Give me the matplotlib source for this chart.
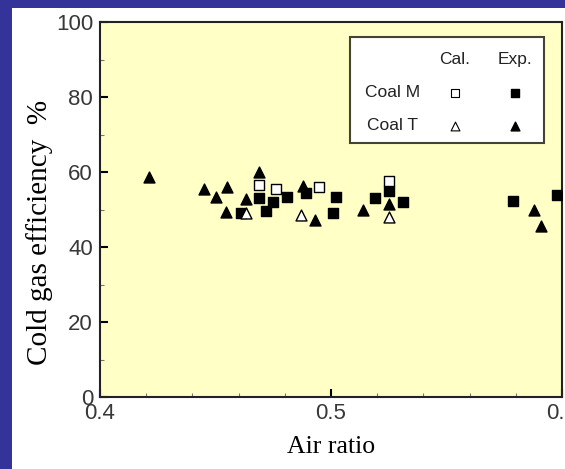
import numpy as np
import matplotlib
matplotlib.use('Agg')
import matplotlib.pyplot as plt
from matplotlib.patches import Rectangle
from matplotlib.ticker import MultipleLocator

# =============================================================================
# Data
# =============================================================================
# Coal M, calculation (open squares)
calM_x = [0.469, 0.476, 0.495, 0.525]
calM_y = [56.5, 55.4, 56.1, 57.6]
# Coal M, experiment (filled squares)
expM_x = [0.461, 0.469, 0.472, 0.475, 0.481, 0.489, 0.502, 0.501, 0.519, 0.525, 0.531, 0.579, 0.598]
expM_y = [49.2, 53.0, 49.7, 52.1, 53.3, 54.3, 53.4, 49.0, 53.0, 55.0, 51.9, 52.3, 54.0]
# Coal T, calculation (open triangles)
calT_x = [0.463, 0.487, 0.525]
calT_y = [49.0, 48.5, 48.1]
# Coal T, experiment (filled triangles)
expT_x = [0.421, 0.445, 0.450, 0.455, 0.4545, 0.463, 0.469, 0.488, 0.493, 0.514, 0.525, 0.588, 0.591]
expT_y = [58.7, 55.6, 53.3, 55.9, 49.4, 52.8, 59.9, 56.4, 47.2, 50.0, 51.5, 49.9, 45.6]

xticks = [0.4, 0.5, 0.6]
yticks = [0, 20, 40, 60, 80, 100]

fig = plt.figure(figsize=(5.65, 4.69), dpi=100, facecolor='#333399')
fig.add_artist(Rectangle((0.0212, 0), 1.0, 0.983, transform=fig.transFigure,
                         facecolor='white', edgecolor='none', zorder=0))

ax = fig.add_axes([0.177, 0.1535, 0.8177, 0.7995])
ax.set_facecolor('#ffffc6')

ms = 54
ax.scatter(expM_x, expM_y, marker='s', s=ms, c='black', zorder=3)
ax.scatter(expT_x, expT_y, marker='^', s=ms + 8, c='black', zorder=3)
ax.scatter(calM_x, calM_y, marker='s', s=ms, facecolor='white', edgecolor='black', linewidth=1, zorder=4)
ax.scatter(calT_x, calT_y, marker='^', s=ms + 8, facecolor='white', edgecolor='black', linewidth=1, zorder=4)

ax.set_xlim(0.4, 0.6)
ax.set_ylim(0, 100)
ax.set_xticks(xticks)
ax.set_xticklabels([str(t) for t in xticks])
ax.set_yticks(yticks)
ax.xaxis.set_minor_locator(MultipleLocator(0.02))
ax.yaxis.set_minor_locator(MultipleLocator(10))
ax.tick_params(which='both', direction='in', top=False, right=False,
               labelsize=16, labelcolor='#383838')
ax.tick_params(axis='y', pad=5)
ax.tick_params(axis='x', pad=4)
for lab in ax.get_xticklabels() + ax.get_yticklabels():
    lab.set_family('Liberation Sans')
ax.tick_params(which='major', length=6, width=1.5)
ax.tick_params(which='minor', length=3, width=0.8, color='#777777')
for s in ax.spines.values():
    s.set_linewidth(1.5)
    s.set_color('#222222')

ax.set_xlabel('Air ratio', family='Liberation Serif', fontsize=18.5, labelpad=9)
ax.set_ylabel('Cold gas efficiency  %', family='Liberation Serif', fontsize=21)
ax.yaxis.label.set_va('center')
ax.yaxis.set_label_coords(-0.132, 0.44)

# legend table drawn by hand
ax.add_patch(Rectangle((0.541, 0.677), 0.42, 0.283, transform=ax.transAxes,
                       facecolor='white', edgecolor='#444433', linewidth=1.5, zorder=5))
lf = dict(transform=ax.transAxes, fontsize=12.5, family='Liberation Sans', color='#222222',
          ha='center', va='center', zorder=6)
ax.text(0.768, 0.899, 'Cal.', **lf)
ax.text(0.898, 0.899, 'Exp.', **lf)
ax.text(0.634, 0.811, 'Coal M', **lf)
ax.text(0.634, 0.723, 'Coal T', **lf)
ax.scatter([0.768], [0.811], marker='s', s=34, facecolor='white', edgecolor='black', linewidth=0.8,
           transform=ax.transAxes, zorder=6)
ax.scatter([0.898], [0.811], marker='s', s=34, c='black', transform=ax.transAxes, zorder=6)
ax.scatter([0.768], [0.723], marker='^', s=40, facecolor='white', edgecolor='black', linewidth=0.8,
           transform=ax.transAxes, zorder=6)
ax.scatter([0.898], [0.723], marker='^', s=40, c='black', transform=ax.transAxes, zorder=6)

fig.savefig('out.png', dpi=100, facecolor=fig.get_facecolor())
